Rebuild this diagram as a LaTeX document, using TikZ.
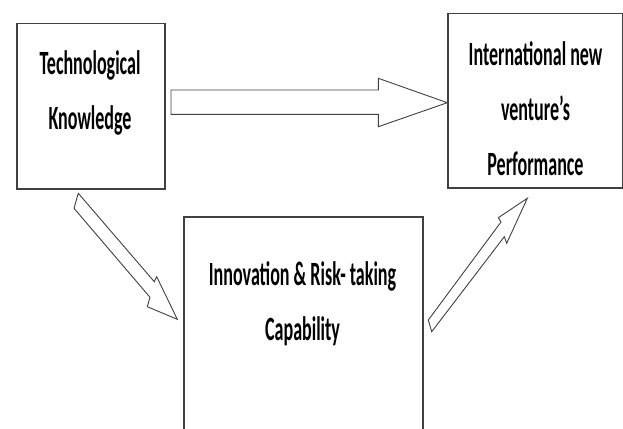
\documentclass[tikz,border=0pt]{standalone}
\usepackage{fontspec}
\setmainfont[FakeStretch=0.53]{Carlito}
\begin{document}
\begin{tikzpicture}[x=1pt,y=-1pt,
  box/.style={draw=black!75, line width=1.5pt, fill=white, inner sep=0pt, anchor=north west},
  blockarrow/.style={draw=black!75, line width=0.9pt, fill=white, line join=miter},
  lbl/.style={font=\fontsize{34}{55}\selectfont\bfseries, align=center, inner sep=0pt, anchor=base}]
\useasboundingbox (0,0) rectangle (623,428);
\clip (0,0) rectangle (623,428);
\node[box, minimum width=148pt, minimum height=165pt] (tk) at (16,23) {};
\node[box, minimum width=174.5pt, minimum height=174pt] (ivp) at (447,13) {};
\node[box, minimum width=239pt, minimum height=240pt] (irc) at (183,216) {};
\node[lbl] (tkt) at (90,129) {Technological\\Knowledge};
\node[lbl] (ivpt) at (535.5,175) {International new\\venture’s\\Performance};
\node[lbl] (irct) at (302.5,340) {Innovation \& Risk- taking\\Capability};
% block arrows
\draw[blockarrow] (171,90) -- (378.3,90) -- (378.3,78.3) -- (447.3,102.7) -- (378.3,126.7) -- (378.3,114.3) -- (171,114.3) -- cycle;
\draw[blockarrow] (78.3,193.3) -- (154.3,281.7) -- (156.7,276.7) -- (177.3,319.3) -- (147.3,306.7) -- (150,297.3) -- (74,208.3) -- cycle;
\draw[blockarrow] (428.3,320) -- (501,222) -- (498.3,217.7) -- (527.3,198.3) -- (506.7,243.3) -- (504.3,236.7) -- (431.7,331.7) -- cycle;
\end{tikzpicture}
\end{document}
